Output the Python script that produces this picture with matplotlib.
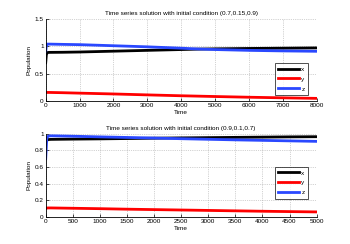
import numpy as np
import matplotlib
matplotlib.use("Agg")
from matplotlib import pyplot as plt

plt.rcParams['font.family'] = ['Liberation Sans', 'DejaVu Sans']

# run 1: initial condition (0.7,0.15,0.9)
t1 = [0, 20, 50, 100, 500, 1000, 2000, 3000, 4000, 4500, 5000, 6000, 7000, 8000]
x1 = [0.70, 0.85, 0.885, 0.888, 0.89, 0.895, 0.91, 0.925, 0.94, 0.948, 0.953, 0.96, 0.965, 0.97]
y1 = [0.15, 0.153, 0.153, 0.153, 0.148, 0.14, 0.125, 0.108, 0.092, 0.085, 0.078, 0.065, 0.054, 0.044]
z1 = [0.90, 1.02, 1.04, 1.04, 1.035, 1.03, 1.01, 0.99, 0.965, 0.95, 0.94, 0.925, 0.915, 0.908]

# run 2: initial condition (0.9,0.1,0.7)
t2 = [0, 20, 50, 100, 500, 1000, 1500, 2000, 2500, 3000, 3500, 4000, 4500, 5000]
x2 = [0.90, 0.92, 0.93, 0.932, 0.935, 0.938, 0.942, 0.946, 0.95, 0.953, 0.956, 0.959, 0.962, 0.964]
y2 = [0.10, 0.107, 0.108, 0.108, 0.104, 0.099, 0.093, 0.088, 0.083, 0.078, 0.073, 0.068, 0.064, 0.06]
z2 = [0.70, 0.95, 0.972, 0.975, 0.97, 0.962, 0.955, 0.948, 0.94, 0.933, 0.926, 0.92, 0.914, 0.908]

fs = 4.6
fig = plt.figure(figsize=(3.5, 2.44), dpi=100)
ax1 = fig.add_axes([0.1306, 0.587, 0.774, 0.335])
ax2 = fig.add_axes([0.1306, 0.111, 0.774, 0.341])

def style(ax, title, xt, yt, leg_anchor):
    ax.plot(t, xs, color='black', lw=2, label='x')
    ax.plot(t, ys, color='#ff0000', lw=2, label='y')
    ax.plot(t, zs, color='#2a48ff', lw=2, label='z')
    ax.set_xlim(xt[0], xt[-1])
    ax.set_ylim(yt[0], yt[-1])
    ax.set_xticks(xt)
    ax.set_yticks(yt)
    ax.set_yticklabels([('%g' % v) for v in yt])
    ax.grid(True, ls=':', lw=0.5, color='#a8a8a8')
    ax.spines['top'].set_visible(False)
    ax.spines['right'].set_visible(False)
    for s in ['left', 'bottom']:
        ax.spines[s].set_linewidth(0.6)
    ax.tick_params(direction='in', length=2, width=0.5, labelsize=fs, pad=1.5)
    ax.set_title(title, fontsize=fs, pad=3)
    ax.set_xlabel('Time', fontsize=fs, labelpad=1.5)
    ax.set_ylabel('Population', fontsize=fs, labelpad=2)
    leg = ax.legend(loc='upper left', bbox_to_anchor=leg_anchor, fontsize=fs,
                    handlelength=3.2, frameon=True, fancybox=False,
                    borderpad=0.5, labelspacing=0.7, handletextpad=0.4)
    leg.get_frame().set_edgecolor('black')
    leg.get_frame().set_linewidth(0.6)

t, xs, ys, zs = t1, x1, y1, z1
style(ax1, 'Time series solution with initial condition (0.7,0.15,0.9)',
      [0, 1000, 2000, 3000, 4000, 5000, 6000, 7000, 8000],
      [0, 0.5, 1, 1.5], (0.835, 0.5))

t, xs, ys, zs = t2, x2, y2, z2
style(ax2, 'Time series solution with initial condition (0.9,0.1,0.7)',
      [0, 500, 1000, 1500, 2000, 2500, 3000, 3500, 4000, 4500, 5000],
      [0, 0.2, 0.4, 0.6, 0.8, 1], (0.835, 0.64))

fig.savefig('out.png', dpi=100)
